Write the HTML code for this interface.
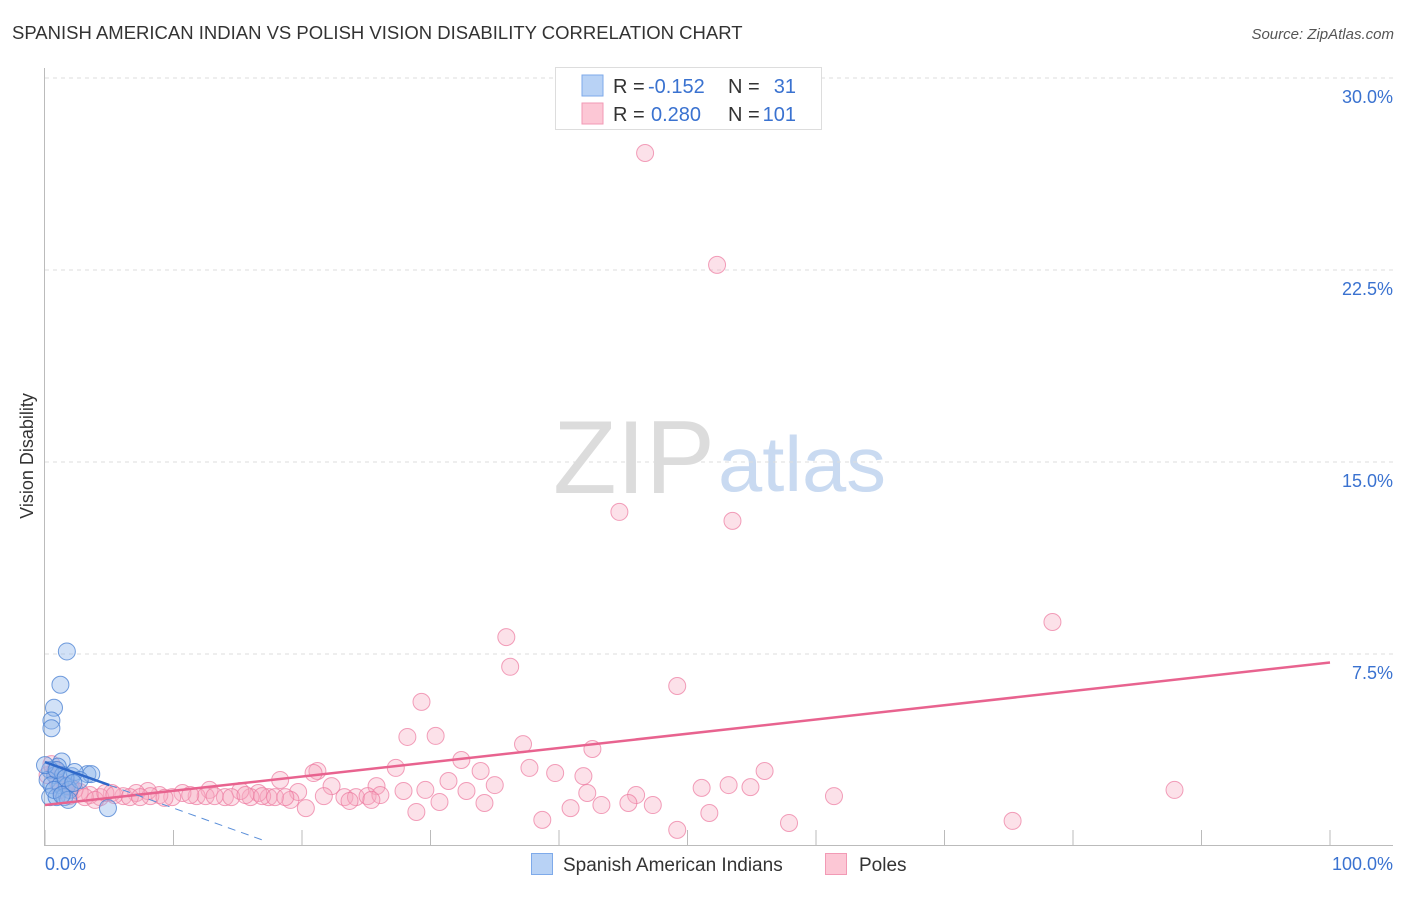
<!DOCTYPE html>
<html><head><meta charset="utf-8"><style>
body{margin:0;background:#fff;font-family:"Liberation Sans",sans-serif;}
svg text{font-family:"Liberation Sans",sans-serif;}
</style></head><body>
<svg id="chart" width="1406" height="892" viewBox="0 0 1406 892">
<text x="12" y="39" font-size="18.5" fill="#333">SPANISH AMERICAN INDIAN VS POLISH VISION DISABILITY CORRELATION CHART</text>
<text x="1394" y="39" font-size="15" fill="#555" font-style="italic" text-anchor="end">Source: ZipAtlas.com</text>
<g>
<text x="553" y="493" font-size="104" fill="#dcdcdc" font-family="Liberation Serif,serif" textLength="162" lengthAdjust="spacingAndGlyphs">ZIP</text>
<text x="718" y="491" font-size="78" fill="#c9daf1" textLength="168" lengthAdjust="spacingAndGlyphs">atlas</text>
</g>
<g id="grid"></g>
<g id="axes"></g>
<g id="marks"></g>
<text x="33" y="456" font-size="18" fill="#333" text-anchor="middle" transform="rotate(-90 33 456)">Vision Disability</text>
<g>
<rect x="555.5" y="67.5" width="266" height="62" fill="#fff" stroke="#ddd"/>
<rect x="582" y="75" width="21" height="21" fill="#b8d2f5" stroke="#7eaaea"/>
<rect x="582" y="103" width="21" height="21" fill="#fcc7d5" stroke="#f29ab5"/>
<text x="613" y="93" font-size="20" fill="#333">R = </text><text x="648" y="93" font-size="20" fill="#3a72d0">-0.152</text>
<text x="728" y="93" font-size="20" fill="#333">N = </text><text x="796" y="93" font-size="20" fill="#3a72d0" text-anchor="end">31</text>
<text x="613" y="121" font-size="20" fill="#333">R = </text><text x="651" y="121" font-size="20" fill="#3a72d0">0.280</text>
<text x="728" y="121" font-size="20" fill="#333">N = </text><text x="796" y="121" font-size="20" fill="#3a72d0" text-anchor="end">101</text>
</g>
<g>
<rect x="531.5" y="853.5" width="21" height="21" fill="#b8d2f5" stroke="#7eaaea"/>
<text x="563" y="871" font-size="19" fill="#333">Spanish American Indians</text>
<rect x="825.5" y="853.5" width="21" height="21" fill="#fcc7d5" stroke="#f29ab5"/>
<text x="859" y="871" font-size="19" fill="#333">Poles</text>
</g>
</svg>
<script>
const yTicks=[7.5,15,22.5,30];
const yTickLabels=["7.5%","15.0%","22.5%","30.0%"];
const xTicks=[0,10,20,30,40,50,60,70,80,90,100];
const xEndLabels=["0.0%","100.0%"];
const blueX=[1.7,1.2,0.7,0.5,0.5,1.3,1.0,0.4,0.8,1.4,2.1,3.3,3.6,0.2,0.5,1.2,1.7,1.9,0.4,0.9,1.5,1.8,4.9,2.3,2.7,0.0,0.9,1.6,0.7,2.2,1.3];
const blueY=[7.6,6.3,5.4,4.9,4.6,3.3,3.1,2.97,2.77,2.77,2.73,2.81,2.81,2.58,2.38,2.38,2.34,2.19,1.91,1.91,1.91,1.8,1.48,2.89,2.58,3.16,2.97,2.66,2.19,2.46,1.99];
const pinkX=[46.7,52.3,44.7,53.5,78.4,35.9,36.2,49.2,29.3,28.2,30.4,37.2,42.6,32.4,21.2,27.3,37.7,39.7,41.9,56.0,33.9,31.4,18.3,20.9,22.3,25.8,27.9,35.0,53.2,54.9,51.1,42.2,87.9,61.4,46.0,32.8,29.6,23.3,24.2,25.1,26.1,21.7,19.7,19.1,17.4,16.6,16.0,15.2,14.0,12.8,11.8,10.7,9.9,8.9,8.0,7.1,6.1,5.2,4.3,3.5,2.7,1.9,1.2,8.2,12.5,14.5,16.9,20.3,23.7,30.7,34.2,28.9,38.7,40.9,43.3,45.4,47.3,51.7,49.2,57.9,75.3,0.8,1.6,2.3,3.1,3.9,4.7,5.4,6.6,7.4,9.3,11.3,13.2,15.6,17.9,18.7,25.4,0.2,0.5,1.0,2.0];
const pinkY=[27.07,22.7,13.05,12.7,8.75,8.16,7.0,6.25,5.63,4.26,4.3,3.98,3.79,3.36,2.93,3.05,3.05,2.85,2.73,2.93,2.93,2.54,2.58,2.85,2.34,2.34,2.15,2.38,2.38,2.3,2.27,2.07,2.19,1.95,1.99,2.15,2.19,1.91,1.91,1.95,1.99,1.95,2.11,1.8,1.91,2.07,1.91,2.15,1.91,2.19,1.95,2.07,1.91,1.99,2.15,2.07,1.95,2.07,1.91,1.99,2.11,1.95,2.19,1.95,1.95,1.91,1.95,1.48,1.76,1.72,1.68,1.33,1.02,1.48,1.6,1.68,1.6,1.29,0.63,0.9,0.98,2.97,2.38,2.19,1.91,1.8,2.07,1.99,1.91,1.91,1.88,1.99,1.95,1.99,1.91,1.91,1.8,2.77,3.2,2.5,2.3];
const pinkTrend=[1.6,7.17];
const blueTrend=[3.28,-0.18];
const X0=45,X1=1330,Y0=846,PX=25.6;
const sx=v=>X0+(X1-X0)*v/100, sy=v=>Y0-v*PX;
const NS="http://www.w3.org/2000/svg";
function mk(parent,tag,attrs){const e=document.createElementNS(NS,tag);for(const k in attrs)e.setAttribute(k,attrs[k]);document.getElementById(parent).appendChild(e);return e;}
yTicks.forEach((t,i)=>{
 const g=mk('grid','line',{x1:45,x2:1393,y1:sy(t),y2:sy(t),stroke:'#ddd','stroke-dasharray':'4,4'});
 
 
 const l=mk('grid','text',{x:1393,y:sy(t)+25,'font-size':18,fill:'#3a72d0','text-anchor':'end'});
 l.textContent=yTickLabels[i];
 
 
});
const ya=mk('axes','line',{x1:44.5,x2:44.5,y1:68,y2:845,stroke:'#bbb'});


const xa=mk('axes','line',{x1:44,x2:1393,y1:845.5,y2:845.5,stroke:'#bbb'});


xTicks.forEach(t=>{
 const k=mk('axes','line',{x1:sx(t),x2:sx(t),y1:830,y2:845,stroke:'#bbb'});
 
 
});
const xl0=mk('axes','text',{x:45,y:870,'font-size':18,fill:'#3a72d0'});xl0.textContent=xEndLabels[0];


const xl1=mk('axes','text',{x:1393,y:870,'font-size':18,fill:'#3a72d0','text-anchor':'end'});xl1.textContent=xEndLabels[1];


pinkX.forEach((x,i)=>{
 const c=mk('marks','circle',{cx:sx(x),cy:sy(pinkY[i]),r:8.5,fill:'rgba(246,168,192,0.35)',stroke:'rgba(236,120,158,0.7)','stroke-width':1});
 
 
});
blueX.forEach((x,i)=>{
 const c=mk('marks','circle',{cx:sx(x),cy:sy(blueY[i]),r:8.5,fill:'rgba(140,180,235,0.4)',stroke:'rgba(70,125,210,0.75)','stroke-width':1});
 
 
});
const pt=mk('marks','line',{x1:sx(0),y1:sy(pinkTrend[0]),x2:sx(100),y2:sy(pinkTrend[1]),stroke:'#e8638f','stroke-width':2.5});


const bEnd=5, bDash=17.2;
const bt=mk('marks','line',{x1:sx(0),y1:sy(blueTrend[0]),x2:sx(bEnd),y2:sy(blueTrend[0]+blueTrend[1]*bEnd),stroke:'#2e68c9','stroke-width':2.5});


const bd=mk('marks','line',{x1:sx(bEnd),y1:sy(blueTrend[0]+blueTrend[1]*bEnd),x2:sx(bDash),y2:sy(blueTrend[0]+blueTrend[1]*bDash),stroke:'#5b8fd9','stroke-width':1,'stroke-dasharray':'8,6'});


</script>
</body></html>
